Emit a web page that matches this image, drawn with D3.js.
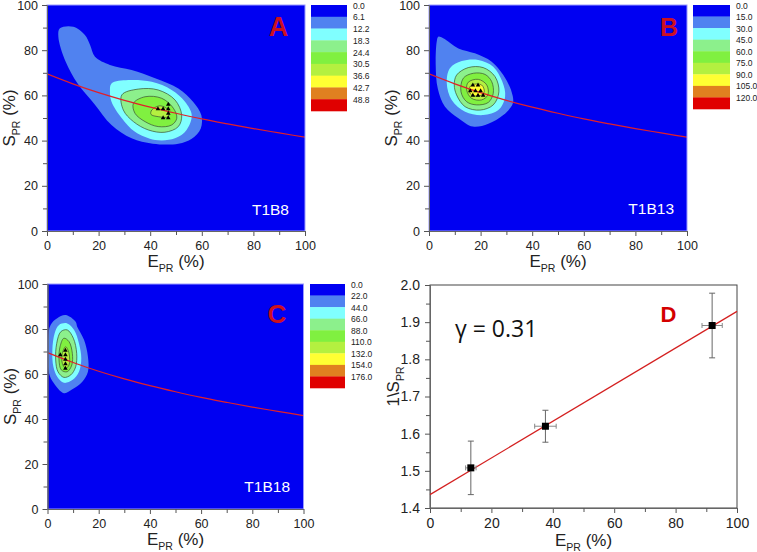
<!DOCTYPE html>
<html><head><meta charset="utf-8">
<script src="https://cdn.jsdelivr.net/npm/d3@7"></script>
<style>body{margin:0;background:#fff}svg{display:block}</style>
</head><body><svg id="c" width="757" height="552"></svg>
<script>
// ---------- data ----------
const bandColors = ["#0000f2","#5082f0","#80ffff","#8cf08c","#80f040","#b4f040","#ffff33","#e08020","#e00000"];
const levelsA = ["0.0","6.1","12.2","18.3","24.4","30.5","36.6","42.7","48.8"];
const levelsB = ["0.0","15.0","30.0","45.0","60.0","75.0","90.0","105.0","120.0"];
const levelsC = ["0.0","22.0","44.0","66.0","88.0","110.0","132.0","154.0","176.0"];
const axisTicks = [0,20,40,60,80,100];
const axisMinor = [10,30,50,70,90];
const yTicksD = [1.4,1.5,1.6,1.7,1.8,1.9,2.0];
const yMinorD = [1.45,1.55,1.65,1.75,1.85,1.95];

// fitted S_PR(E_PR) curve (red line in A,B,C)
const curveE = [0,10,20,30,40,50,60,70,80,90,100];
const curveS = [69.5,65.1,61.2,57.8,54.8,52.1,49.6,47.4,45.3,43.4,41.5];

// contour polygons [E_PR, S_PR] per level, panel A
const polyA1 = [[5,89.7],[10.2,90.4],[14.7,86.7],[16.7,82.3],[18.6,77.1],[24.4,73.5],[32.8,71.2],[41.9,67.6],[50.9,63.1],[56.6,57.2],[59.8,51.3],[59.6,45.4],[56.1,40.8],[50.9,38.6],[41,38.6],[32.8,41],[25,46.9],[18.5,56],[12,65],[7.2,75],[4.4,86]];
const polyA2 = [[25,65.3],[31.5,66.8],[40.6,66],[48.3,62.4],[53.5,57.2],[56.1,51.3],[54.1,44.7],[49.6,41],[41.9,40.3],[34.1,43.9],[29,49.9],[25,57.2],[24.4,61.6]];
const polyA3 = [[29,60.2],[35.4,62.8],[43.1,62.4],[49.6,58],[52.2,51.3],[50.9,46.2],[45.7,43.7],[39.3,44.7],[33.5,48.4],[29.6,53.5]];
const polyA4 = [[33.5,56.5],[38,59.4],[44.5,58.7],[49,54.3],[50.3,49.9],[48.3,46.9],[43.1,46.2],[38,48.4],[34.1,52.1]];
const polyA5 = [[40.6,53.5],[43.8,55.4],[47,53.5],[47,50.6],[43.1,50.6],[40.3,51.6]];
const triA = [[43,54],[45,54],[47,56],[47,54],[47,52],[45,50],[47,50]];

// panel B
const polyB1 = [[3.6,86],[5.5,85.3],[11.4,80.8],[17.8,78.6],[24.3,74.9],[28.8,69],[32,61.6],[32.5,56.5],[28.8,51.3],[23,47.5],[17,46.2],[11.4,49.9],[6.2,55],[3.4,63.1],[2.6,73.5],[3,83.8]];
const polyB2 = [[8.1,72],[12.7,75.2],[19.1,75.7],[24.9,72.7],[28.4,66.1],[29.5,59.4],[26.9,53.5],[21,51.3],[14,52.8],[8.8,58],[6.9,65.3]];
const polyB3 = [[10.7,69],[15.2,72.3],[21,72.3],[25.6,68.3],[27.1,61.6],[24.9,55.8],[19.8,53.5],[14,55],[10.7,60.2],[9.8,64.6]];
const polyB4 = [[13.3,67.6],[17.2,69.8],[21.7,69.3],[24.3,66.1],[24.9,60.9],[23,56.9],[18.5,55.8],[14.6,57.2],[12.4,61.6]];
const polyB5 = [[15.2,65.8],[19.1,67.1],[22.4,64.6],[22.8,60.2],[20.4,58],[16.5,58.7],[14.6,62.4]];
const polyB6 = [[16.5,64.6],[20.4,64.6],[21.4,61.6],[19.8,59.9],[16.5,60.2],[15.5,62.4]];
const triB = [[17,64.5],[19,64.5],[16,62],[18,62],[20,62],[17,60],[19,60],[21,60]];

// panel C
const polyC1 = [[3.8,84.8],[7.1,86.2],[11,83.2],[11.6,81],[14.3,75.1],[15.8,67.7],[15.8,61],[13.6,56.6],[9.7,53.2],[6.4,51.5],[2.5,55.9],[0.6,60.3],[0.2,75.1],[1.2,81.8]];
const polyC2 = [[4.5,81.8],[7.7,82.5],[10.4,79.6],[12.3,73.6],[13.2,67],[12.3,61],[9.7,57.3],[6.4,56.1],[3.8,58.8],[2.3,63.2],[1.9,70.7],[2.8,78.1]];
const polyC3 = [[5.2,78.8],[7.7,79.6],[10.1,75.9],[11.4,69.2],[11,63.2],[9.1,59.6],[6.4,58.5],[4.1,61],[3.2,66.2],[3.6,73.6]];
const polyC4 = [[6.4,75.9],[8.4,74.4],[9.7,69.2],[9.5,64],[7.7,61],[5.4,61.8],[4.5,66.2],[4.9,72.1]];
const polyC5 = [[7.1,72.1],[8.4,69.2],[8.4,64],[7.1,62.5],[5.8,64.7],[5.8,69.2]];
const triC = [[5,68.5],[7,70.5],[7,68.5],[7,66.5],[7,64.5],[7,62.5]];

// panel D
const dE = [13.3,37.6,91.9];
const dY = [1.508,1.620,1.891];
const dErrX = [1.7,3.5,3.3];
const dErrY = [0.072,0.043,0.087];
const fitE = [0,100];
const fitY = [1.436,1.929];

// ---------- drawing ----------
const svg = d3.select("#c");
const FONT = "'Liberation Sans', Arial, Helvetica, sans-serif";
const defs = svg.append("defs");

function subLabel(sel, main, sub, tail, size){
  sel.append("tspan").text(main);
  sel.append("tspan").attr("dy", size*0.3).attr("font-size", size*0.62).text(sub);
  sel.append("tspan").attr("dy", -size*0.3).text(tail);
}

function axes(g, x, y, p, yt, ym, yfmt, ypad, fs){
  g.append("g").attr("transform",`translate(0,${p.y+p.h})`)
    .call(d3.axisBottom(x).tickValues(axisTicks).tickSize(5).tickSizeOuter(0).tickPadding(5).tickFormat(d3.format("d")));
  g.append("g").attr("transform",`translate(0,${p.y+p.h})`)
    .call(d3.axisBottom(x).tickValues(axisMinor).tickSize(4).tickSizeOuter(0).tickFormat(""));
  g.append("g").attr("transform",`translate(${p.x},0)`)
    .call(d3.axisLeft(y).tickValues(yt).tickSize(5).tickSizeOuter(0).tickPadding(ypad).tickFormat(yfmt));
  g.append("g").attr("transform",`translate(${p.x},0)`)
    .call(d3.axisLeft(y).tickValues(ym).tickSize(4).tickSizeOuter(0).tickFormat(""));
  g.selectAll(".domain").attr("stroke","#666");
  g.selectAll(".tick line").attr("stroke","#555");
  g.selectAll(".tick text").attr("font-family",FONT).attr("font-size",fs).attr("fill","#222");
}

const contourPanels = [
  {x:47, y:5, w:258, h:226, polys:[polyA1,polyA2,polyA3,polyA4,polyA5], tri:triA, levels:levelsA,
   leg:{x:311, w:36, h:106}, tag:"T1B8", tagX:289, tagY:215, letter:"A", lx:278.5, ly:36, ls:27},
  {x:429, y:5, w:258, h:226, polys:[polyB1,polyB2,polyB3,polyB4,polyB5,polyB6], tri:triB, levels:levelsB,
   leg:{x:693, w:37, h:104}, tag:"T1B13", tagX:674, tagY:214, letter:"B", lx:669, ly:36, ls:25},
  {x:47.5, y:284, w:256, h:225, polys:[polyC1,polyC2,polyC3,polyC4,polyC5], tri:triC, levels:levelsC,
   leg:{x:310, w:35, h:104}, tag:"T1B18", tagX:290, tagY:492, letter:"C", lx:277, ly:323, ls:26}
];

contourPanels.forEach((p,pi)=>{
  const g = svg.append("g");
  const x = d3.scaleLinear().domain([0,100]).range([p.x, p.x+p.w]);
  const y = d3.scaleLinear().domain([0,100]).range([p.y+p.h, p.y]);
  const cid = "clip"+pi;
  defs.append("clipPath").attr("id",cid).append("rect").attr("x",p.x).attr("y",p.y).attr("width",p.w).attr("height",p.h);
  g.append("rect").attr("x",p.x).attr("y",p.y).attr("width",p.w).attr("height",p.h).attr("fill",bandColors[0]);
  const cg = g.append("g").attr("clip-path",`url(#${cid})`);
  const line = d3.line().x(d=>x(d[0])).y(d=>y(d[1])).curve(d3.curveCatmullRomClosed.alpha(0.5));
  p.polys.forEach((poly,i)=>{
    cg.append("path").attr("d",line(poly)).attr("fill",bandColors[i+1])
      .attr("stroke", i>=2 ? "#3a5030" : "none").attr("stroke-width",0.7);
  });
  const cl = d3.line().x((d,i)=>x(curveE[i])).y((d,i)=>y(curveS[i])).curve(d3.curveMonotoneX);
  cg.append("path").attr("d",cl(curveS)).attr("fill","none").attr("stroke","#e0202a").attr("stroke-width",1.2);
  const tri = d3.symbol().type(d3.symbolTriangle).size(9);
  cg.selectAll(".tri").data(p.tri).join("path").attr("d",tri)
    .attr("transform",d=>`translate(${x(d[0])},${y(d[1])})`).attr("fill","#000");
  g.append("rect").attr("x",p.x).attr("y",p.y).attr("width",p.w).attr("height",p.h)
    .attr("fill","none").attr("stroke","#9a9aff").attr("stroke-width",1);
  axes(g, x, y, p, axisTicks, axisMinor, d3.format("d"), 4, 12.5);
  const xt = g.append("text").attr("x",p.x+p.w/2).attr("y",p.y+p.h+36).attr("text-anchor","middle")
    .attr("font-family",FONT).attr("font-size",17).attr("fill","#222");
  subLabel(xt,"E","PR"," (%)",17);
  const yt = g.append("text").attr("transform",`translate(${p.x-32},${p.y+p.h/2}) rotate(-90)`).attr("text-anchor","middle")
    .attr("font-family",FONT).attr("font-size",17).attr("fill","#222");
  subLabel(yt,"S","PR"," (%)",17);
  g.append("text").attr("x",p.tagX).attr("y",p.tagY).attr("text-anchor","end").attr("font-family",FONT)
    .attr("font-size",15.5).attr("fill","#fff").text(p.tag);
  g.append("text").attr("x",p.lx).attr("y",p.ly).attr("text-anchor","middle").attr("font-family",FONT)
    .attr("font-weight","bold").attr("font-size",p.ls).attr("fill","#cc1020").text(p.letter);
  const ly = d3.scaleBand().domain(d3.range(9)).range([p.y, p.y+p.leg.h]);
  const lg = g.append("g");
  lg.selectAll("rect").data(p.levels).join("rect").attr("x",p.leg.x).attr("y",(d,i)=>ly(i))
    .attr("width",p.leg.w).attr("height",ly.bandwidth()+0.3).attr("fill",(d,i)=>bandColors[i]);
  lg.selectAll("text").data(p.levels).join("text").attr("x",p.leg.x+p.leg.w+6).attr("y",(d,i)=>ly(i)+3.6)
    .attr("font-family",FONT).attr("font-size",8.5).attr("fill","#222").text(d=>d);
});

// ---------- panel D ----------
(function(){
  const p = {x:430, y:285, w:307, h:223};
  const g = svg.append("g");
  const x = d3.scaleLinear().domain([0,100]).range([p.x, p.x+p.w]);
  const y = d3.scaleLinear().domain([1.4,2.0]).range([p.y+p.h, p.y]);
  g.append("rect").attr("x",p.x).attr("y",p.y).attr("width",p.w).attr("height",p.h)
    .attr("fill","#fff").attr("stroke","#444").attr("stroke-width",1);
  axes(g, x, y, p, yTicksD, yMinorD, d3.format(".1f"), 5, 14);
  g.append("line").attr("x1",x(fitE[0])).attr("y1",y(fitY[0])).attr("x2",x(fitE[1])).attr("y2",y(fitY[1]))
    .attr("stroke","#d42020").attr("stroke-width",1.2);
  const pts = dE.map((e,i)=>({e, v:dY[i], ex:dErrX[i], ey:dErrY[i]}));
  const eb = g.append("g").attr("stroke","#666").attr("stroke-width",1);
  pts.forEach(d=>{
    eb.append("line").attr("x1",x(d.e)).attr("x2",x(d.e)).attr("y1",y(d.v-d.ey)).attr("y2",y(d.v+d.ey));
    eb.append("line").attr("x1",x(d.e)-3).attr("x2",x(d.e)+3).attr("y1",y(d.v-d.ey)).attr("y2",y(d.v-d.ey));
    eb.append("line").attr("x1",x(d.e)-3).attr("x2",x(d.e)+3).attr("y1",y(d.v+d.ey)).attr("y2",y(d.v+d.ey));
    eb.append("line").attr("x1",x(d.e-d.ex)).attr("x2",x(d.e+d.ex)).attr("y1",y(d.v)).attr("y2",y(d.v)).attr("stroke","#888");
    eb.append("line").attr("x1",x(d.e-d.ex)).attr("x2",x(d.e-d.ex)).attr("y1",y(d.v)-2.5).attr("y2",y(d.v)+2.5).attr("stroke","#888");
    eb.append("line").attr("x1",x(d.e+d.ex)).attr("x2",x(d.e+d.ex)).attr("y1",y(d.v)-2.5).attr("y2",y(d.v)+2.5).attr("stroke","#888");
  });
  g.selectAll(".sq").data(pts).join("rect").attr("x",d=>x(d.e)-3.5).attr("y",d=>y(d.v)-3.5)
    .attr("width",7).attr("height",7).attr("fill","#000");
  const xt = g.append("text").attr("x",p.x+p.w/2).attr("y",p.y+p.h+38).attr("text-anchor","middle")
    .attr("font-family",FONT).attr("font-size",17).attr("fill","#222");
  subLabel(xt,"E","PR"," (%)",17);
  const yt = g.append("text").attr("transform",`translate(${p.x-31},${p.y+p.h/2-10}) rotate(-90)`).attr("text-anchor","middle")
    .attr("font-family",FONT).attr("font-size",17).attr("fill","#222");
  subLabel(yt,"1\\S","PR","",17);
  g.append("text").attr("x",455).attr("y",337).attr("font-family","'Open Sans', 'Noto Sans', sans-serif")
    .attr("font-size",23).attr("fill","#111").text("γ = 0.31");
  g.append("text").attr("x",668.5).attr("y",322).attr("text-anchor","middle").attr("font-family",FONT)
    .attr("font-weight","bold").attr("font-size",22).attr("fill","#d40000").text("D");
})();
</script></body></html>
